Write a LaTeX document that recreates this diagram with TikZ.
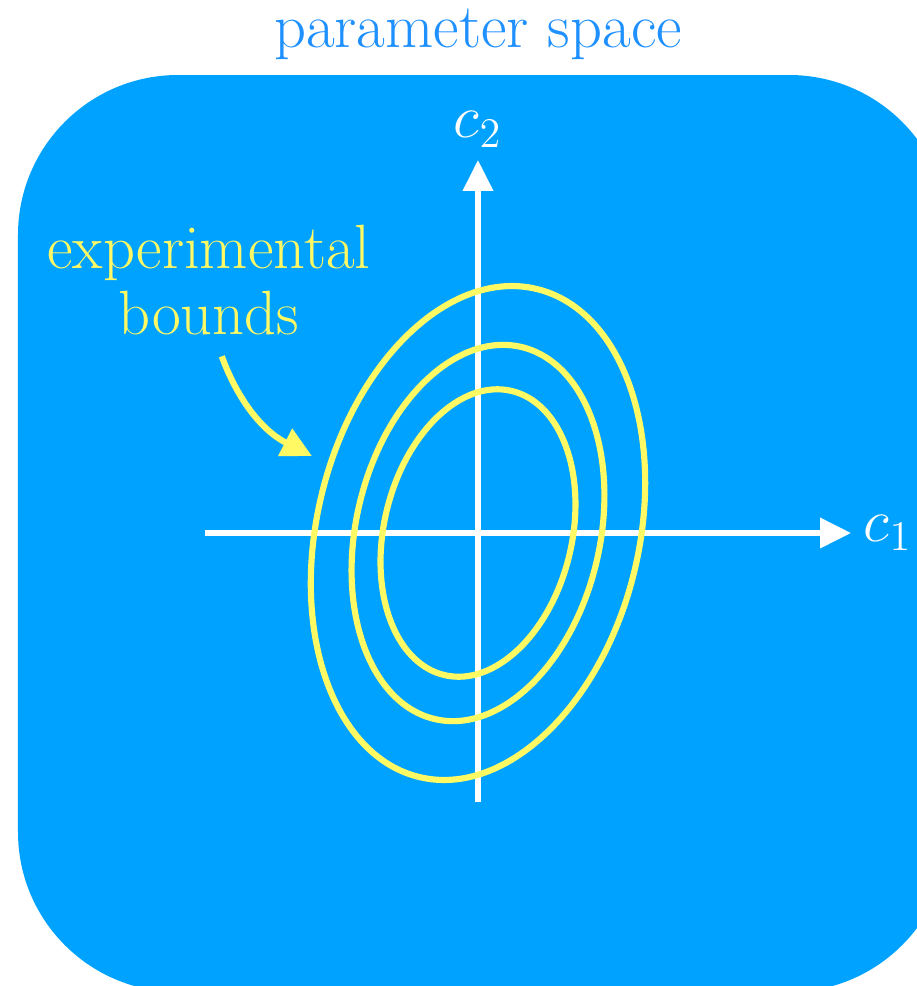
\documentclass[tikz,border=0pt]{standalone}
\usepackage{amsmath,amssymb}
\usepackage{xcolor}
\usepackage{tikz}
\usetikzlibrary{arrows.meta,positioning,calc}
\definecolor{psfill}{HTML}{00A2FF}
\definecolor{pstitle}{HTML}{1E90FF}
\definecolor{psyellow}{HTML}{FFFA64}
\tikzset{
psregion/.style={fill=psfill,draw=none,rounded corners=1.6cm},
psaxis/.style={-{Triangle[length=8.8pt,width=8.4pt]},white,line width=1.5pt},
psaxislabel/.style={text=white,inner sep=3.5pt},
psbound/.style={psyellow,line width=1.75pt},
psboundlabel/.style={text=psyellow,align=center,inner sep=2pt},
pspointer/.style={-{Triangle[length=8.6pt,width=8.4pt]},psyellow,line width=1.75pt},
pstitlelabel/.style={text=pstitle}
}
\begin{document}
\begin{tikzpicture}[
x=1cm,
y=1cm,
every node/.style={font=\fontsize{17.8}{19}\selectfont}
]
\useasboundingbox (-4.78,-4.53) rectangle (4.39,5.33);
\fill[psregion] (-4.60,-4.59) rectangle (4.71,4.58);
\node[pstitlelabel,anchor=base] (title) at (0,4.86) {parameter space};
% axes
\coordinate (c1start) at (-2.73,0);
\coordinate (c2start) at (0,-2.69);
\node[psaxislabel,anchor=west] (c1lbl) at (3.73,0) {$c_1$};
\node[psaxislabel,anchor=south] (c2lbl) at (0,3.73) {$c_2$};
\draw[psaxis] (c1start)--(c1lbl);
\draw[psaxis] (c2start)--(c2lbl);
% bounds
\draw[psbound,rotate=-13.3] (0,0) ellipse [x radius=0.94, y radius=1.46];
\draw[psbound,rotate=-13.0] (0,0) ellipse [x radius=1.22, y radius=1.91];
\draw[psbound,rotate=-13.5] (0,0) ellipse [x radius=1.61, y radius=2.51];
\node[psboundlabel] (bndlbl) at (-2.69,2.53) {experimental\\bounds};
\coordinate (bndtip) at (-1.66,0.77);
\draw[pspointer,shorten <=4pt] ([xshift=0.08cm]bndlbl.south) to[out=-70,in=153] (bndtip);
\end{tikzpicture}
\end{document}
